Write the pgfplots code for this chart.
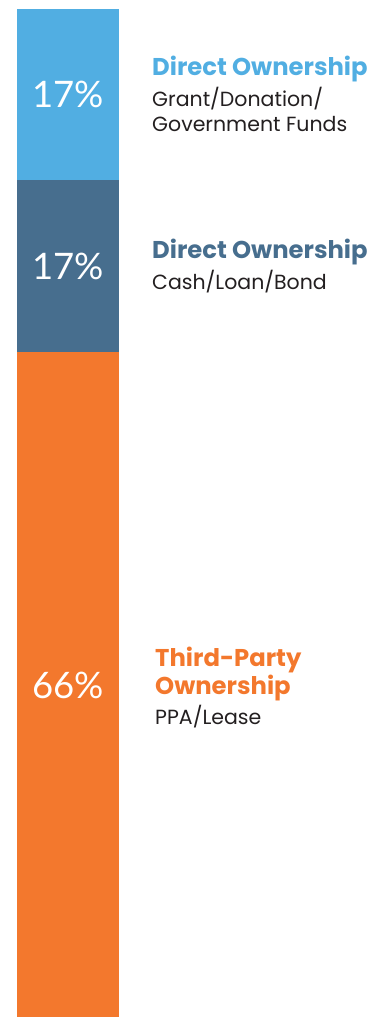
\documentclass[border=0pt]{standalone}
\usepackage{pgfplots}
\pgfplotsset{compat=1.18}
\usepackage{fontspec}
\setmainfont{Poppins}
\newfontfamily\pctfont{Lato}
\definecolor{lblue}{HTML}{51AEE2}
\definecolor{dblue}{HTML}{476E8E}
\definecolor{orng}{HTML}{F3782D}
\definecolor{txt}{HTML}{231F20}
\begin{document}
\begin{tikzpicture}[x=1pt,y=1pt]
\useasboundingbox (0,0) rectangle (387,1017);
\begin{axis}[at={(17pt,0pt)}, anchor=south west, scale only axis,
  width=102pt, height=1008pt, hide axis, xmin=-0.5, xmax=0.5,
  ymin=0, ymax=100, ybar stacked, bar width=102pt, clip=false]
\addplot[fill=orng, draw=none] coordinates {(0,66)};
\addplot[fill=dblue, draw=none] coordinates {(0,17)};
\addplot[fill=lblue, draw=none] coordinates {(0,17)};
\end{axis}
\tikzset{pct/.style={text=white, inner sep=0, anchor=center, font=\pctfont\fontsize{36.5}{40}\selectfont}}
\node[pct] at (68,332) {66\%};
\node[pct] at (68,750.5) {17\%};
\node[pct] at (68,923) {17\%};
\tikzset{hd/.style={anchor=base west, inner sep=0, font=\bfseries\fontsize{24.3}{28}\selectfont},
  bd/.style={anchor=base west, inner sep=0, text=txt, font=\fontsize{20.5}{22}\selectfont}}
\node[hd, text=lblue] at (152,941) {Direct Ownership};
\node[bd] at (152,910) {Grant/Donation/};
\node[bd] at (152,885) {Government Funds};
\node[hd, text=dblue] at (152,758) {Direct Ownership};
\node[bd] at (152,727) {Cash/Loan/Bond};
\node[hd, text=orng] at (155,350) {Third-Party};
\node[hd, text=orng] at (155,322) {Ownership};
\node[bd] at (155,292) {PPA/Lease};
\end{tikzpicture}
\end{document}
